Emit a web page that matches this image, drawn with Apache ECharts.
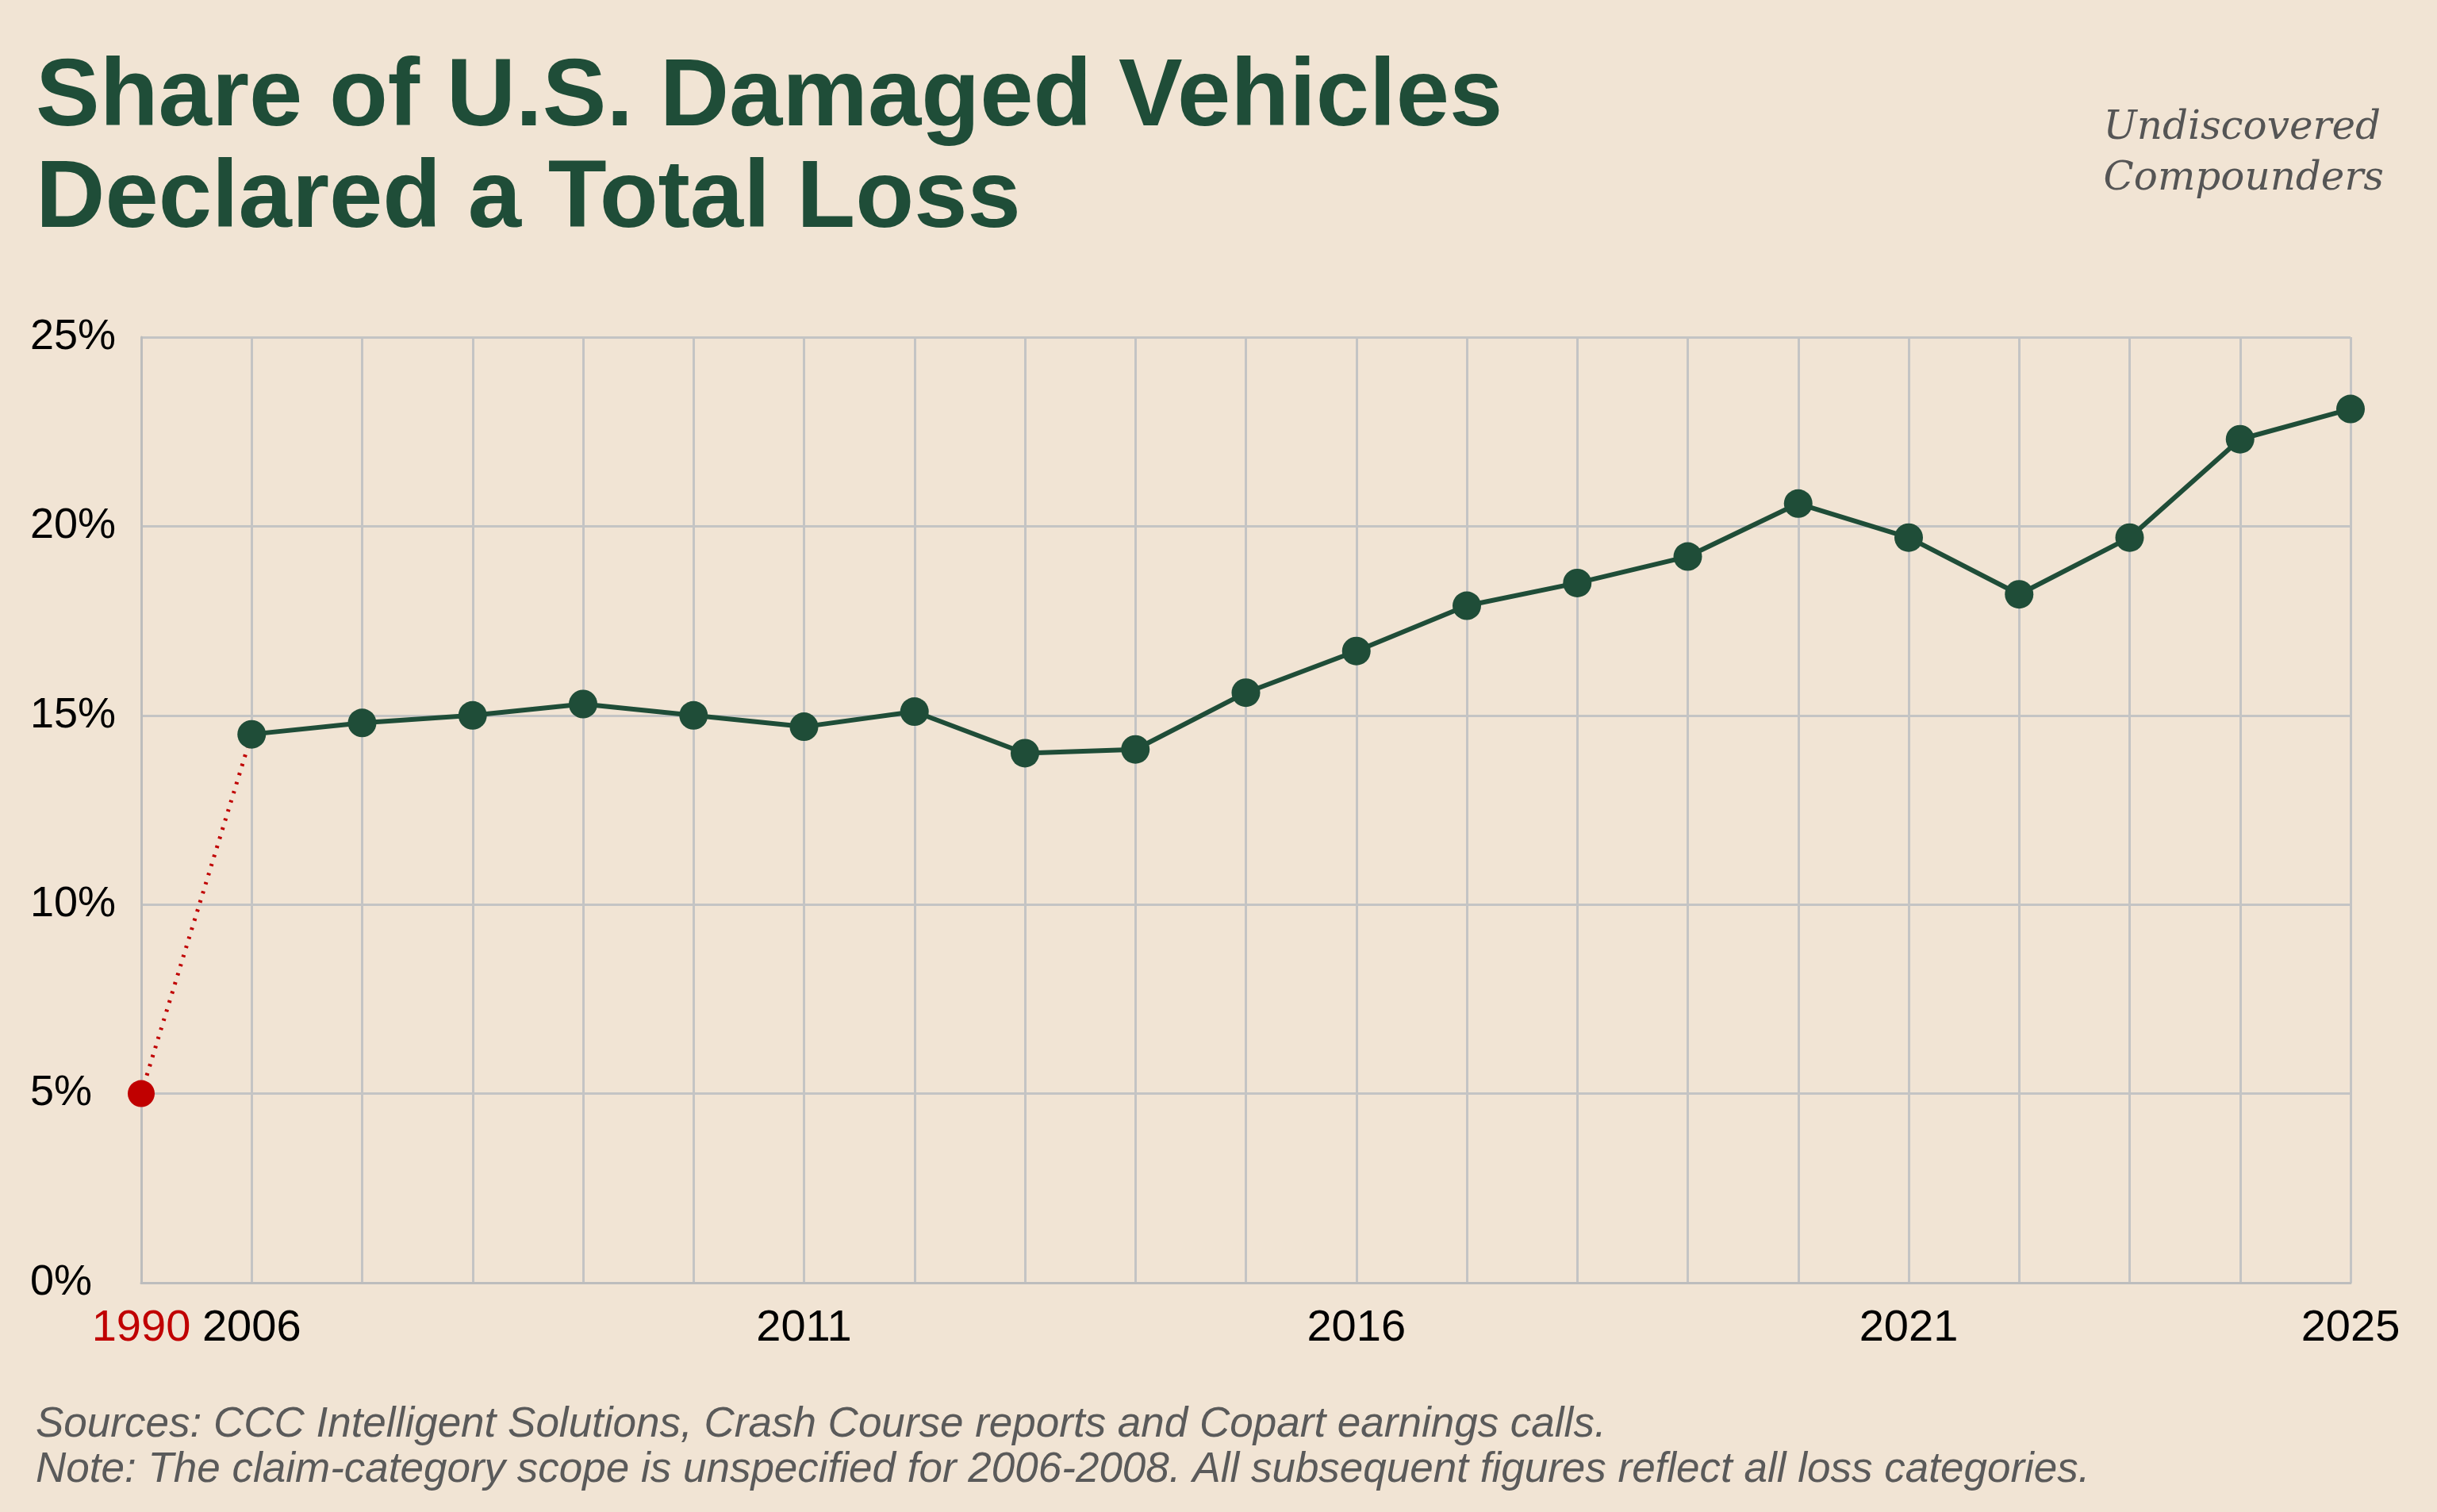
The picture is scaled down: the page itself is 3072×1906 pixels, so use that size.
<!DOCTYPE html>
<html>
<head>
<meta charset="utf-8">
<script src="https://cdn.jsdelivr.net/npm/echarts@6/dist/echarts.min.js"></script>
<style>
  html, body { margin: 0; padding: 0; background: #f1e4d4; }
  #chart { width: 3072px; height: 1906px; }
</style>
</head>
<body>
<div id="chart"></div>
<script>
  'use strict'

  var years = ['1990', '2006', '2007', '2008', '2009', '2010', '2011', '2012', '2013', '2014',
    '2015', '2016', '2017', '2018', '2019', '2020', '2021', '2022', '2023', '2024', '2025'];
  var shares = [5.0, 14.5, 14.8, 15.0, 15.3, 15.0, 14.7, 15.1, 14.0, 14.1,
    15.6, 16.7, 17.9, 18.5, 19.2, 20.6, 19.7, 18.2, 19.7, 22.3, 23.1];
  var shownYears = ['1990', '2006', '2011', '2016', '2021', '2025'];

  var green = '#1f4d38';
  var red = '#c00000';

  // split: dotted red bridge 1990->2006, solid green from 2006
  var bridge = shares.map(function(v, i) { return i <= 1 ? v : '-'; });
  var main = shares.map(function(v, i) { return i >= 1 ? v : '-'; });

  var chart = echarts.init(document.getElementById('chart'));

  var option = {
    backgroundColor: '#f1e4d4',
    animation: false,
    title: [
      {
        text: 'Share of U.S. Damaged Vehicles\nDeclared a Total Loss',
        left: 40, top: 56,
        textStyle: { fontFamily: 'Liberation Sans', fontWeight: 'bold', fontSize: 121, lineHeight: 128, color: green }
      },
      {
        text: 'Sources: CCC Intelligent Solutions, Crash Course reports and Copart earnings calls.\nNote: The claim-category scope is unspecified for 2006-2008. All subsequent figures reflect all loss categories.',
        left: 40, top: 1763,
        textStyle: { fontFamily: 'Liberation Sans', fontStyle: 'italic', fontWeight: 'normal', fontSize: 53, lineHeight: 57, color: '#5a5a5a' }
      }
    ],
    graphic: [
      {
        type: 'text',
        right: 67, top: 130,
        style: {
          text: 'Undiscovered\nCompounders',
          align: 'right',
          font: 'italic 50px "DejaVu Serif"',
          lineHeight: 64,
          fill: '#555555'
        }
      }
    ],
    grid: { left: 178, right: 109, top: 425, bottom: 289 },
    xAxis: {
      type: 'category',
      data: years,
      boundaryGap: false,
      axisLine: { lineStyle: { color: '#bdbdbd', width: 3 } },
      axisTick: { show: false },
      splitLine: { show: true, interval: 0, lineStyle: { color: '#c4c4c4', width: 3 } },
      axisLabel: {
        interval: 0,
        margin: 30,
        fontFamily: 'Liberation Sans',
        fontSize: 56,
        formatter: function(v) {
          if (shownYears.indexOf(v) < 0) return '';
          return v === '1990' ? '{r|' + v + '}' : v;
        },
        color: '#000',
        rich: { r: { color: red, fontFamily: 'Liberation Sans', fontSize: 56 } }
      }
    },
    yAxis: {
      type: 'value',
      min: 0, max: 25, interval: 5,
      axisLine: { show: true, lineStyle: { color: '#bdbdbd', width: 3 } },
      axisTick: { show: false },
      splitLine: { lineStyle: { color: '#c4c4c4', width: 3 } },
      axisLabel: {
        formatter: '{value}%',
        fontFamily: 'Liberation Sans',
        fontSize: 54,
        color: '#000',
        align: 'left',
        margin: 140,
        verticalAlign: 'middle'
      }
    },
    series: [
      {
        type: 'line',
        data: bridge,
        symbol: 'circle',
        symbolSize: 34,
        lineStyle: { color: red, width: 5, type: [3, 9] },
        itemStyle: { color: red },
        z: 2
      },
      {
        type: 'line',
        data: main,
        symbol: 'circle',
        symbolSize: 36,
        lineStyle: { color: green, width: 6 },
        itemStyle: { color: green },
        z: 3
      }
    ]
  };

  chart.setOption(option);
</script>
</body>
</html>
